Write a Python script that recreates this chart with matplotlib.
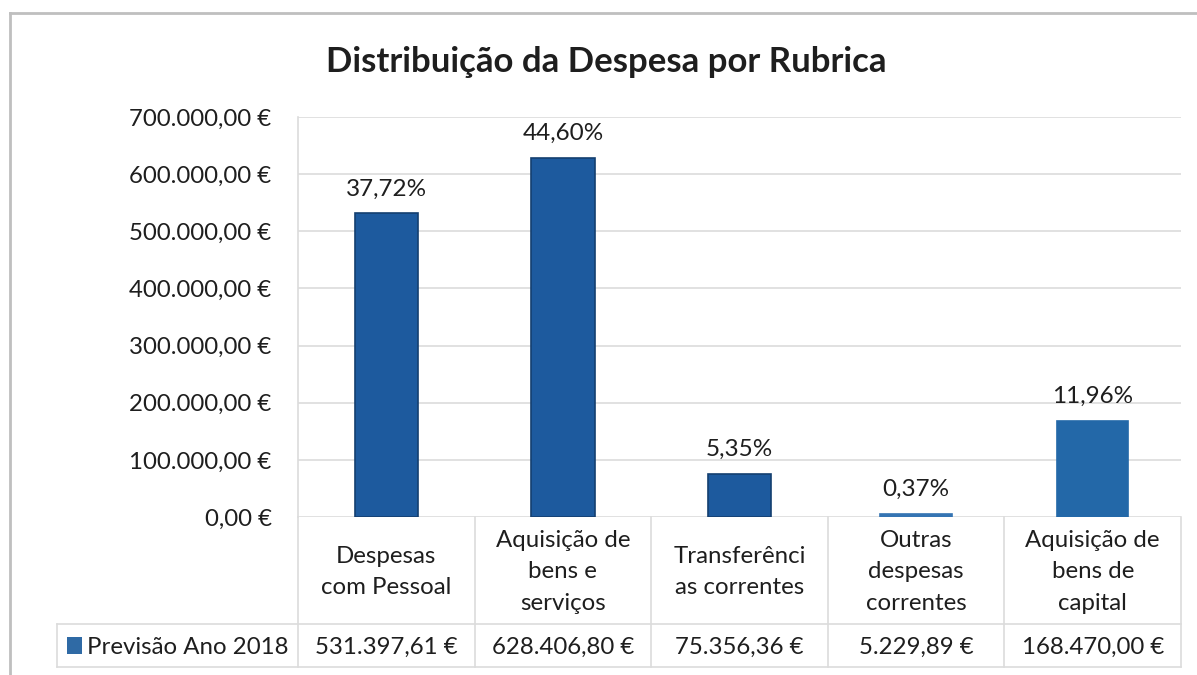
import matplotlib
matplotlib.use("Agg")
import matplotlib.pyplot as plt
from matplotlib.lines import Line2D
from matplotlib.patches import Rectangle
from matplotlib.transforms import blended_transform_factory

plt.rcParams['font.family'] = ['Lato', 'DejaVu Sans']

# ---------------- data ----------------
title = "Distribuição da Despesa por Rubrica"
series_name = "Previsão Ano 2018"
categories = ["Despesas\ncom Pessoal",
              "Aquisição de\nbens e\nserviços",
              "Transferênci\nas correntes",
              "Outras\ndespesas\ncorrentes",
              "Aquisição de\nbens de\ncapital"]
values = [531397.61, 628406.80, 75356.36, 5229.89, 168470.00]
value_labels = ["531.397,61 €", "628.406,80 €", "75.356,36 €", "5.229,89 €", "168.470,00 €"]
percent_labels = ["37,72%", "44,60%", "5,35%", "0,37%", "11,96%"]
yticks = [0, 100000, 200000, 300000, 400000, 500000, 600000, 700000]
ytick_labels = ["0,00 €", "100.000,00 €", "200.000,00 €", "300.000,00 €",
                "400.000,00 €", "500.000,00 €", "600.000,00 €", "700.000,00 €"]

# ---------------- styles ----------------
bar_colors = ["#1d5a9e", "#1d5a9e", "#1d5a9e", "#3574b3", "#2368a8"]
bar_edges = ["#143f70", "#143f70", "#143f70", "#3574b3", "#2368a8"]
bar_widths = [0.36, 0.36, 0.36, 0.41, 0.40]
grid_c = "#dcdcdc"
text_c = "#1e1e1e"
fs = 17.3

W, H = 1197, 675
fig = plt.figure(figsize=(W / 100, H / 100), dpi=100)


def fx(px):
    return px / W


def fy(py):
    return 1 - py / H


ax = fig.add_axes([fx(298), fy(517), fx(1181) - fx(298), fy(117) - fy(517)])
x = list(range(len(categories)))
bars = ax.bar(x, values, width=bar_widths, color=bar_colors,
              edgecolor=bar_edges, linewidth=1.2, zorder=3)

for xi, v, lab in zip(x, values, percent_labels):
    ax.annotate(lab, (xi, v), xytext=(0, 10), textcoords="offset points",
                ha="center", va="bottom", fontsize=17.5, color=text_c)

ax.set_xlim(-0.5, len(categories) - 0.5)
ax.set_ylim(0, 700000)
ax.set_yticks(yticks)
ax.set_yticklabels(ytick_labels, fontsize=fs, color=text_c)
ax.set_xticks([])
ax.tick_params(axis="y", length=0, pad=19)
ax.yaxis.grid(True, color=grid_c, linewidth=1.2, zorder=0)
ax.set_axisbelow(True)
for s in ["top", "right", "bottom"]:
    ax.spines[s].set_visible(False)
ax.spines["left"].set_color(grid_c)
ax.spines["left"].set_linewidth(1.2)

# ---------------- title ----------------
fig.text(fx(606), fy(62), title, ha="center", va="center",
         fontsize=25, fontweight="bold", color=text_c)

# ---------------- data table ----------------
tr = blended_transform_factory(ax.transData, fig.transFigure)
for xi, cat, vl in zip(x, categories, value_labels):
    ax.text(xi, fy(572), cat, transform=tr, ha="center", va="center",
            fontsize=fs, color=text_c, linespacing=1.62, clip_on=False)
    ax.text(xi, fy(647), vl, transform=tr, ha="center", va="center",
            fontsize=fs, color=text_c, clip_on=False)

for b in [i - 0.5 for i in range(len(categories) + 1)]:
    fig.add_artist(Line2D([b, b], [fy(517), fy(667)], transform=tr,
                          color=grid_c, linewidth=1.2))
for yy in [624, 667]:
    fig.add_artist(Line2D([fx(57), fx(1181)], [fy(yy), fy(yy)],
                          color=grid_c, linewidth=1.2))
fig.add_artist(Line2D([fx(57), fx(57)], [fy(624), fy(667)],
                      color=grid_c, linewidth=1.2))

# legend key
fig.add_artist(Rectangle((fx(67), fy(654)), fx(82) - fx(67), fy(637) - fy(654),
                         facecolor="#2f6aa5", edgecolor="none",
                         transform=fig.transFigure))
fig.text(fx(87), fy(647), series_name, ha="left", va="center",
         fontsize=fs, color=text_c)

# outer chart border
fig.add_artist(Line2D([fx(10), fx(1197)], [fy(13), fy(13)], color="#bfbfbf", linewidth=2))
fig.add_artist(Line2D([fx(10), fx(10)], [fy(13), fy(675)], color="#bfbfbf", linewidth=2))

fig.savefig("out.png", dpi=100)
